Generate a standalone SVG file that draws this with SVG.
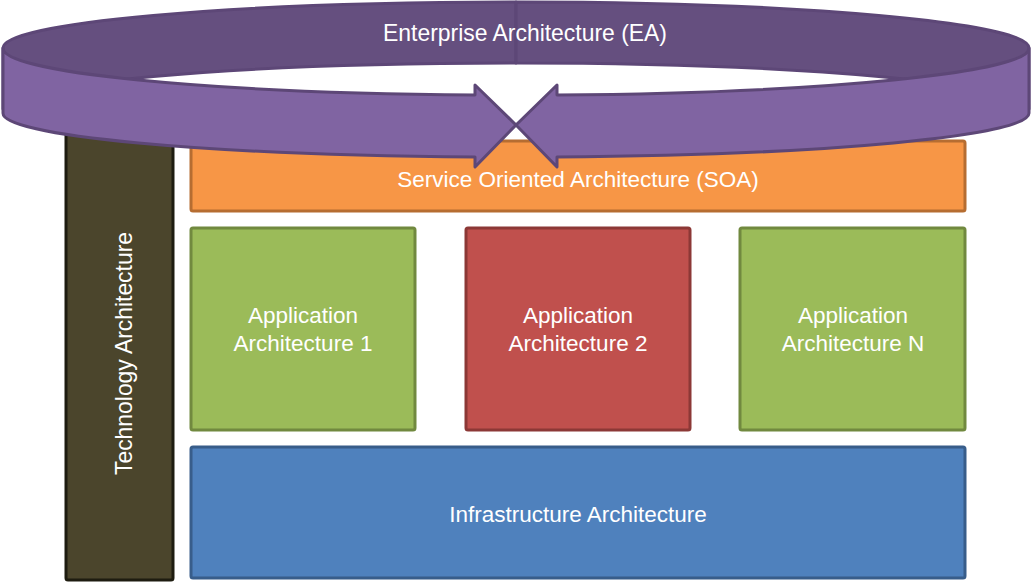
<svg xmlns="http://www.w3.org/2000/svg" xmlns:xlink="http://www.w3.org/1999/xlink" width="1031" height="583" viewBox="0 0 1031 583">
  <style>
    .box { stroke-width: 3; }
    .lbl { font-family: "Liberation Sans", Arial, sans-serif; font-size: 22.5px; fill: #ffffff; text-anchor: middle; }
    .ring { stroke: #5D4777; stroke-width: 3; stroke-linejoin: round; }
    .back { fill: #654F7F; }
    .front { fill: #8064A2; }
  </style>
  <defs>
    <path id="backHalf" d="M516,2 A513,46 0 0 0 3,48 L3,109 A513,46 0 0 1 516,63 Z"/>
    <path id="frontHalf" d="M3,48 A513,47 0 0 0 475,95 L475,85 L516,125 L475,167 L475,157 A513,44 0 0 1 3,113 Z"/>
  </defs>
  <rect width="1031" height="583" fill="#ffffff"/>

  <g id="technology">
    <rect class="box" x="66" y="120" width="107" height="460" rx="2" fill="#4B452C" stroke="#1E1C10"/>
    <text class="lbl" transform="translate(132,353.5) rotate(-90)" font-size="24" textLength="243" lengthAdjust="spacingAndGlyphs" style="font-size:24px">Technology Architecture</text>
  </g>

  <g id="soa">
    <rect class="box" x="191" y="141" width="774" height="70" rx="2" fill="#F79646" stroke="#B66D31"/>
    <text class="lbl" x="578" y="187">Service Oriented Architecture (SOA)</text>
  </g>

  <g id="app1">
    <rect class="box" x="191" y="228" width="224" height="202" rx="2" fill="#9BBB59" stroke="#71893F"/>
    <text class="lbl" x="303" y="323">Application</text>
    <text class="lbl" x="303" y="351">Architecture 1</text>
  </g>

  <g id="app2">
    <rect class="box" x="466" y="228" width="224" height="202" rx="2" fill="#C0504D" stroke="#8C3836"/>
    <text class="lbl" x="578" y="323">Application</text>
    <text class="lbl" x="578" y="351">Architecture 2</text>
  </g>

  <g id="appN">
    <rect class="box" x="740" y="228" width="225" height="202" rx="2" fill="#9BBB59" stroke="#71893F"/>
    <text class="lbl" x="853" y="323">Application</text>
    <text class="lbl" x="853" y="351">Architecture N</text>
  </g>

  <g id="infrastructure">
    <rect class="box" x="191" y="447" width="774" height="131" rx="2" fill="#4F81BD" stroke="#385D8A"/>
    <text class="lbl" x="578" y="522">Infrastructure Architecture</text>
  </g>

  <g id="ea">
    <use xlink:href="#backHalf" href="#backHalf" class="ring back"/>
    <use xlink:href="#backHalf" href="#backHalf" class="ring back" transform="translate(1032,0) scale(-1,1)"/>
    <use xlink:href="#frontHalf" href="#frontHalf" class="ring front"/>
    <use xlink:href="#frontHalf" href="#frontHalf" class="ring front" transform="translate(1032,0) scale(-1,1)"/>
    <text class="lbl" x="525" y="41" textLength="284" lengthAdjust="spacingAndGlyphs" style="font-size:24px">Enterprise Architecture (EA)</text>
  </g>

  <g id="connectors"/>
</svg>
